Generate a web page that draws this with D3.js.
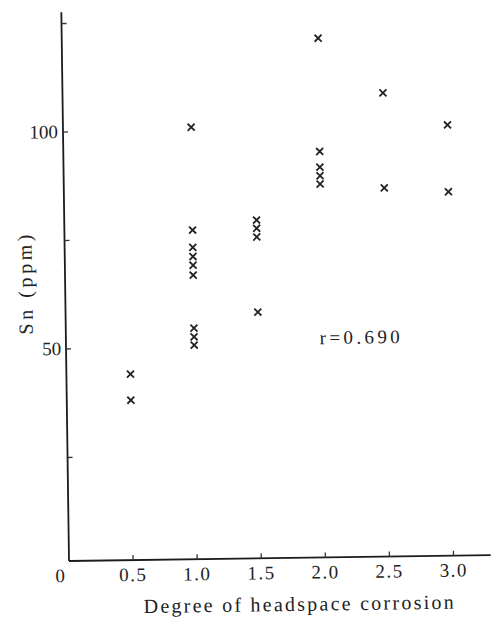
<!DOCTYPE html>
<html>
<head>
<meta charset="utf-8">
<script src="https://cdn.jsdelivr.net/npm/d3@7"></script>
<style>
  body { margin: 0; background: #fff; }
  text { font-family: "Liberation Serif", "DejaVu Serif", serif; fill: #222; }
</style>
</head>
<body>
<svg id="chart" width="492" height="617"></svg>
<script>
// values
const corrosion = [0.5, 0.5,
    1.0, 1.0, 1.0, 1.0, 1.0, 1.0, 1.0, 1.0, 1.0,
    1.5, 1.5, 1.5, 1.5,
    2.0, 2.0, 2.0, 2.0, 2.0,
    2.5, 2.5,
    3.0, 3.0];
const snPpm = [44, 38,
    100.7, 77, 73, 70.9, 68.9, 66.6, 54.4, 52.4, 50.5,
    79.1, 77.2, 75.2, 57.9,
    120.8, 94.7, 91.1, 89.1, 87.2,
    108, 86.1,
    100.4, 85];
const xTicks = [0.5, 1.0, 1.5, 2.0, 2.5, 3.0];
const yTicks = [25, 50, 75, 100, 125];
const yTickLabels = {50: "50", 100: "100"};
const rLabel = "r=0.690";

class Scatter {

    constructor(xs, ys) {
        this.data = xs.map((d, i) => ({x: d, y: ys[i]}));
        this.svg = d3.select("#chart");
        // scan is tilted a bit, so everything is drawn straight and rotated
        this.tilt = -0.8;
        this.x = d3.scaleLinear().domain([0, 3.3]).range([69, 492]);
        this.y = d3.scaleLinear().domain([0, 125]).range([566, 23.5]);
        this.y0 = this.y(1.15);
    }

    draw() {
        let x = this.x, y = this.y;
        let g = this.svg.append("g")
            .attr("transform", `rotate(${this.tilt},${x(0)},${this.y0})`);

        //axes lines
        g.append("line")
            .attr("x1", x(0)).attr("x2", x(0))
            .attr("y1", this.y0).attr("y2", y(127.6))
            .attr("stroke", "#1c1c1c").attr("stroke-width", 1.8);
        g.append("line")
            .attr("x1", x(0)).attr("x2", x(3.29))
            .attr("y1", this.y0).attr("y2", this.y0)
            .attr("stroke", "#1c1c1c").attr("stroke-width", 1.8);

        //y ticks point inward
        g.selectAll(".ytick").data(yTicks).enter().append("line")
            .attr("x1", x(0)).attr("x2", x(0) + 5)
            .attr("y1", d => y(d)).attr("y2", d => y(d))
            .attr("stroke", "#333").attr("stroke-width", 1.3);
        g.selectAll(".ylab").data(yTicks.filter(d => yTickLabels[d])).enter().append("text")
            .attr("x", x(0) - 5)
            .attr("y", d => y(d) + 6)
            .attr("text-anchor", "end")
            .attr("font-size", 19)
            .text(d => yTickLabels[d]);

        //x ticks
        g.selectAll(".xtick").data(xTicks).enter().append("line")
            .attr("x1", d => x(d)).attr("x2", d => x(d))
            .attr("y1", this.y0).attr("y2", this.y0 - 5)
            .attr("stroke", "#333").attr("stroke-width", 1.3);
        g.selectAll(".xlab").data(xTicks).enter().append("text")
            .attr("x", d => x(d))
            .attr("y", this.y0 + 21)
            .attr("text-anchor", "middle")
            .attr("font-size", 19)
            .attr("letter-spacing", 1.5)
            .text(d => d.toFixed(1));
        g.append("text")
            .attr("x", x(0) - 9).attr("y", this.y0 + 21)
            .attr("text-anchor", "middle")
            .attr("font-size", 19)
            .text("0");

        //axis titles
        g.append("text")
            .attr("x", 143).attr("y", 614)
            .attr("font-size", 20)
            .attr("textLength", 310).attr("lengthAdjust", "spacing")
            .text("Degree of headspace corrosion");
        g.append("text")
            .attr("transform", `translate(36,334) rotate(-90)`)
            .attr("font-size", 20)
            .attr("textLength", 100).attr("lengthAdjust", "spacing")
            .text("Sn (ppm)");

        //points
        g.selectAll(".pt").data(this.data).enter().append("path")
            .attr("transform", d => `translate(${x(d.x)},${y(d.y)})`)
            .attr("d", "M-3.5,-3.5L3.5,3.5M-3.5,3.5L3.5,-3.5")
            .attr("stroke", "#222").attr("stroke-width", 1.8)
            .attr("fill", "none");

        g.append("text")
            .attr("x", x(1.98)).attr("y", y(50.3))
            .attr("font-size", 19)
            .attr("textLength", 80).attr("lengthAdjust", "spacing")
            .text(rLabel);
    }
}

let chart = new Scatter(corrosion, snPpm);
chart.draw();
</script>
</body>
</html>
